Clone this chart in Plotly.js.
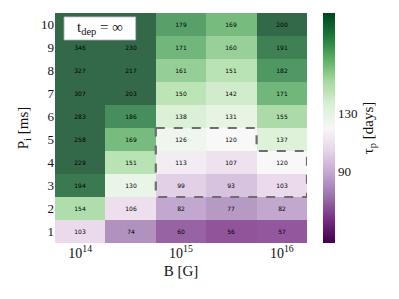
<!DOCTYPE html>
<html>
<head>
<meta charset="utf-8">
<script src="https://cdn.plot.ly/plotly-3.0.1.min.js"></script>
<style>html,body{margin:0;padding:0;background:#fff;}#chart{width:399px;height:299px;}</style>
</head>
<body>
<div id="chart"></div>
<script>
// Columns: magnetic field B [G]; rows: initial spin period P_i [ms]
const bIndex = [0, 1, 2, 3, 4];
const bTickVals = [0, 2, 4];
const bTickText = ['10<sup>14</sup>', '10<sup>15</sup>', '10<sup>16</sup>'];
const periods = [1, 2, 3, 4, 5, 6, 7, 8, 9, 10];
// tau_p [days], one row per period (P_i = 1 ... 10)
const row1  = [103, 74, 60, 56, 57];
const row2  = [154, 106, 82, 77, 82];
const row3  = [194, 130, 99, 93, 103];
const row4  = [229, 151, 113, 107, 120];
const row5  = [258, 169, 126, 120, 137];
const row6  = [283, 186, 138, 131, 155];
const row7  = [307, 203, 150, 142, 171];
const row8  = [327, 217, 161, 151, 182];
const row9  = [346, 230, 171, 160, 191];
const row10 = [365, 243, 179, 169, 200];
const tau = [row1, row2, row3, row4, row5, row6, row7, row8, row9, row10];
const cbTicks = [90, 130];

// cell labels from the data; the two cells hidden under the t_dep label box are left blank
const cellText = tau.map((row, i) => row.map((v, j) => (i === 9 && j < 2) ? '' : String(v)));

const PRGn = [
  [0.0, '#40004b'], [0.1, '#762a83'], [0.2, '#9970ab'], [0.3, '#c2a5cf'],
  [0.4, '#e7d4e8'], [0.5, '#f7f7f7'], [0.6, '#d9f0d3'], [0.7, '#a6dba0'],
  [0.8, '#5aae61'], [0.9, '#1b7837'], [1.0, '#00441b']
];
const serif = 'Liberation Serif, DejaVu Serif, serif';

const trace = {
  type: 'heatmap',
  x: bIndex,
  y: periods,
  z: tau,
  zmin: 40, zmax: 200,
  colorscale: PRGn,
  opacity: 0.8,
  text: cellText,
  texttemplate: '%{text}',
  textfont: {family: 'DejaVu Sans, sans-serif', size: 6, color: '#000'},
  hoverinfo: 'skip',
  colorbar: {
    x: 1.063, xanchor: 'left', xpad: 0,
    y: 0.5, yanchor: 'middle', ypad: 0,
    len: 1, lenmode: 'fraction',
    thickness: 12, outlinewidth: 0,
    tickvals: cbTicks, ticks: '', ticklen: 0,
    tickfont: {family: serif, size: 13, color: '#111'},
    title: {text: 'τ<sub>p</sub> [days]', side: 'right', font: {family: serif, size: 15, color: '#111'}}
  }
};

const layout = {
  width: 399, height: 299,
  margin: {l: 55, r: 92, t: 13, b: 56},
  paper_bgcolor: '#fff', plot_bgcolor: '#fff',
  xaxis: {
    range: [-0.5, 4.5], tickvals: bTickVals, ticktext: bTickText,
    showgrid: false, zeroline: false, showline: false, ticks: '',
    tickfont: {family: serif, size: 14, color: '#111'},
    title: {text: 'B [G]', font: {family: serif, size: 15, color: '#111'}, standoff: 5}
  },
  yaxis: {
    range: [0.5, 10.5], tickvals: periods,
    showgrid: false, zeroline: false, showline: false, ticks: '',
    tickfont: {family: serif, size: 13, color: '#111'},
    title: {text: 'P<sub>i</sub> [ms]', font: {family: serif, size: 15, color: '#111'}, standoff: 8}
  },
  shapes: [
    {type: 'path', xref: 'x', yref: 'y',
     path: 'M 1.5,5.5 L 3.5,5.5 L 3.5,4.5 L 4.5,4.5 L 4.5,2.5 L 1.5,2.5 Z',
     line: {color: '#6e6e6e', width: 2.2, dash: 'dash'}},
    {type: 'rect', xref: 'x', yref: 'y', x0: -0.32, x1: 1.1, y0: 9.33, y1: 10.33,
     fillcolor: '#fff', line: {color: '#bbb', width: 0.8}}
  ],
  annotations: [
    {xref: 'x', yref: 'y', x: 0.39, y: 9.83, showarrow: false,
     text: 't<sub>dep</sub> = ∞', font: {family: serif, size: 15, color: '#111'}}
  ]
};

Plotly.newPlot('chart', [trace], layout, {displayModeBar: false, staticPlot: true});
</script>
</body>
</html>
